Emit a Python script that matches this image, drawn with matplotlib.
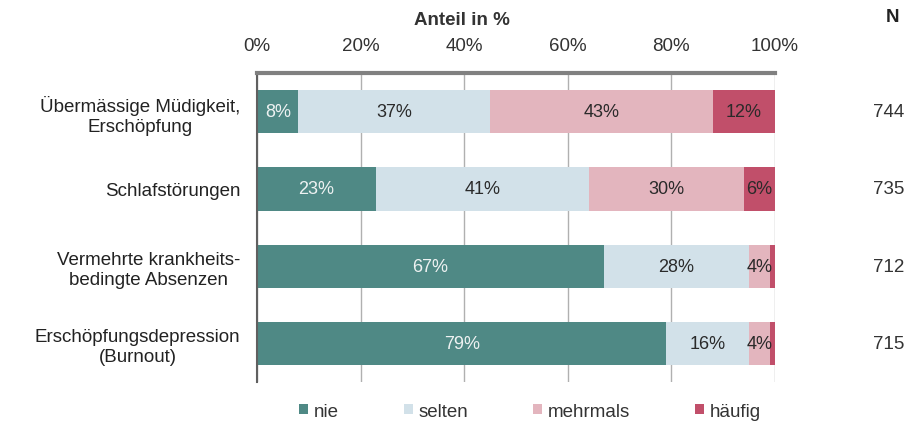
import numpy as np
import matplotlib
matplotlib.use("Agg")
import matplotlib.pyplot as plt

plt.rcParams['font.family'] = ['Liberation Sans', 'DejaVu Sans']

categories = ["Übermässige Müdigkeit,\nErschöpfung",
              "Schlafstörungen",
              "Vermehrte krankheits-\nbedingte Absenzen",
              "Erschöpfungsdepression\n(Burnout)"]
n_values = [744, 735, 712, 715]

series_names = ["nie", "selten", "mehrmals", "häufig"]
nie = [8, 23, 67, 79]
selten = [37, 41, 28, 16]
mehrmals = [43, 30, 4, 4]
haeufig = [12, 6, 1, 1]
# which segments get a text label (tiny ones don't)
show_label = [[True, True, True, True],
              [True, True, True, True],
              [True, True, True, False],
              [True, True, True, False]]

colors = ["#4f8985", "#d2e1e9", "#e3b5be", "#c14f6a"]
text_colors = ["#eef2f2", "#2a2a2a", "#2a2a2a", "#2a2a2a"]

fig = plt.figure(figsize=(9.06, 4.27), dpi=100)
ax = fig.add_axes([0.2837, 0.103, 0.5717, 0.7237])

y = np.arange(len(categories))
data = [nie, selten, mehrmals, haeufig]
left = np.zeros(len(categories))
handles = []
for k, vals in enumerate(data):
    vals = np.array(vals, dtype=float)
    bars = ax.barh(y, vals, left=left, height=0.56, color=colors[k],
                   edgecolor='none', label=series_names[k], zorder=2)
    handles.append(bars)
    for i, v in enumerate(vals):
        if show_label[i][k]:
            ax.text(left[i] + v / 2, y[i], f"{int(v)}%", ha='center', va='center',
                    fontsize=13, color=text_colors[k], zorder=3)
    left += vals

ax.set_xlim(0, 100)
ax.set_ylim(3.5, -0.5)
ax.set_yticks(y)
ax.set_yticklabels(categories, fontsize=13.5, color='#222222', ha='right',
                   multialignment='center')
ax.tick_params(axis='y', length=0, pad=12)
ax.xaxis.tick_top()
ax.set_xticks([0, 20, 40, 60, 80, 100])
ax.set_xticklabels([f"{t}%" for t in [0, 20, 40, 60, 80, 100]], fontsize=13.5, color='#333333')
ax.tick_params(axis='x', length=0, pad=14)
fig.text(0.51, 0.953, "Anteil in %", fontsize=13.5, fontweight='bold', color='#333333',
         ha='center', va='center')

ax.grid(axis='x', color='#b0b0b0', linewidth=1, zorder=0)
for s in ['right', 'bottom']:
    ax.spines[s].set_visible(False)
ax.spines['top'].set_color('#808080')
ax.spines['top'].set_linewidth(3)
ax.spines['left'].set_color('#606060')
ax.spines['left'].set_linewidth(1.5)

# N column
fig.text(0.993, 0.958, "N", fontsize=13.5, fontweight='bold', ha='right', va='center', color='#222222')
for i, n in enumerate(n_values):
    yd = ax.transData.transform((0, y[i]))[1]
    yf = fig.transFigure.inverted().transform((0, yd))[1]
    fig.text(0.998, yf, str(n), fontsize=13.5, ha='right', va='center', color='#333333')

fig.legend(handles=handles, labels=series_names, loc='center', bbox_to_anchor=(0.585, 0.035),
           ncol=4, frameon=False, fontsize=13.5, handlelength=0.5, handleheight=0.5,
           handletextpad=0.3, columnspacing=3.45, labelcolor='#333333')

fig.savefig("out.png", dpi=100, facecolor='white')
